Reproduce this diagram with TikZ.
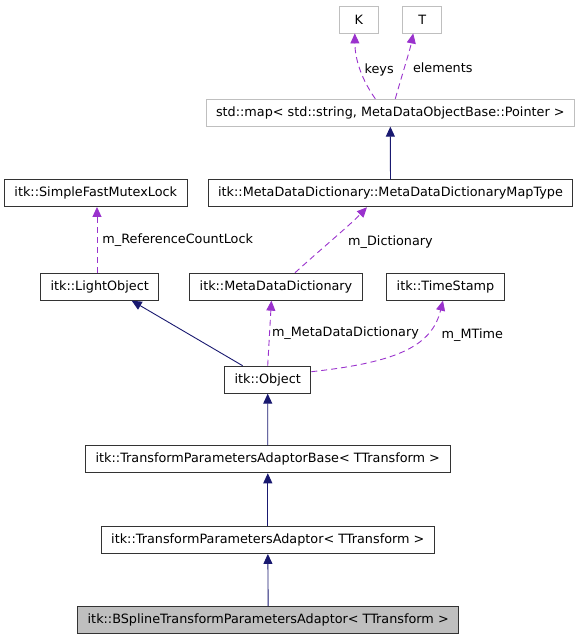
\documentclass[tikz,border=0pt]{standalone}
\usepackage{fontspec}
\setmainfont{DejaVu Sans}
\usetikzlibrary{arrows.meta}
\definecolor{navy}{HTML}{191970}
\definecolor{orchid}{HTML}{9A32CD}
\definecolor{boxgray}{HTML}{BFBFBF}

\begin{document}
\begin{tikzpicture}[x=1pt,y=-1pt,
  cls/.style={draw=black!80,line width=0.9pt,fill=white,minimum height=27pt,inner xsep=10pt,font=\fontsize{12.8}{14}\selectfont},
  ext/.style={cls,draw=boxgray},
  inh/.style={navy,line width=0.9pt,-{Triangle[width=9pt,length=10pt]}},
  mbr/.style={orchid,line width=0.9pt,dash pattern=on 6pt off 4pt,-{Triangle[width=9pt,length=10pt]}},
  lbl/.style={font=\fontsize{12.8}{14}\selectfont,text=black,inner sep=2pt}]
\useasboundingbox (0,0) rectangle (581,640);

% classes
\node[ext,minimum width=39pt] (k) at (358.8,19.5) {K};
\node[ext,minimum width=39pt] (t) at (422.2,19.5) {T};
\node[ext] (map) at (390.3,112.7) {std::map< std::string, MetaDataObjectBase::Pointer >};
\node[cls] (maptype) at (390.5,193.3) {itk::MetaDataDictionary::MetaDataDictionaryMapType};
\node[cls] (mutex) at (95.8,193) {itk::SimpleFastMutexLock};
\node[cls] (light) at (99.7,286.7) {itk::LightObject};
\node[cls] (mdd) at (276,286.7) {itk::MetaDataDictionary};
\node[cls] (stamp) at (445.5,286.7) {itk::TimeStamp};
\node[cls] (obj) at (267.7,379.7) {itk::Object};
\node[cls] (base) at (267.8,459.3) {itk::TransformParametersAdaptorBase< TTransform >};
\node[cls] (adaptor) at (267.8,540) {itk::TransformParametersAdaptor< TTransform >};
\node[cls,fill=boxgray] (bspline) at (268.2,620) {itk::BSplineTransformParametersAdaptor< TTransform >};

% inheritance
\draw[inh] (bspline) -- (adaptor);
\draw[inh] (adaptor) -- (base);
\draw[inh] (base) -- (obj);
\draw[inh] ([xshift=-25pt]obj.north) -- ([xshift=32pt]light.south);
\draw[inh] (maptype) -- (map);

% members
\draw[mbr] (obj.north) -- node[lbl,right]{m\_MetaDataDictionary} ([xshift=-4.6pt]mdd.south);
\draw[mbr] ([yshift=8pt]obj.east) .. controls (400,362) and (432,345) .. node[lbl,pos=0.75,right,xshift=9pt,yshift=-6pt]{m\_MTime} ([xshift=-2.5pt]stamp.south);
\draw[mbr] ([xshift=19pt]mdd.north) .. controls (320,250) and (350,225) .. node[lbl,pos=0.55,right,xshift=8pt,yshift=-7pt]{m\_Dictionary} ([xshift=-23.5pt]maptype.south);
\draw[mbr] ([xshift=-2.7pt]light.north) -- node[lbl,right,xshift=3pt]{m\_ReferenceCountLock} ([xshift=1.2pt]mutex.south);
\draw[mbr] ([xshift=-15pt]map.north) .. controls (362,80) and (355,60) .. node[lbl,right,xshift=2pt,yshift=-1pt]{keys} ([xshift=-4pt]k.south);
\draw[mbr] ([xshift=5pt]map.north) .. controls (402,75) and (410,50) .. node[lbl,right,xshift=5pt,yshift=-4pt]{elements} ([xshift=-9pt]t.south);
\end{tikzpicture}
\end{document}
